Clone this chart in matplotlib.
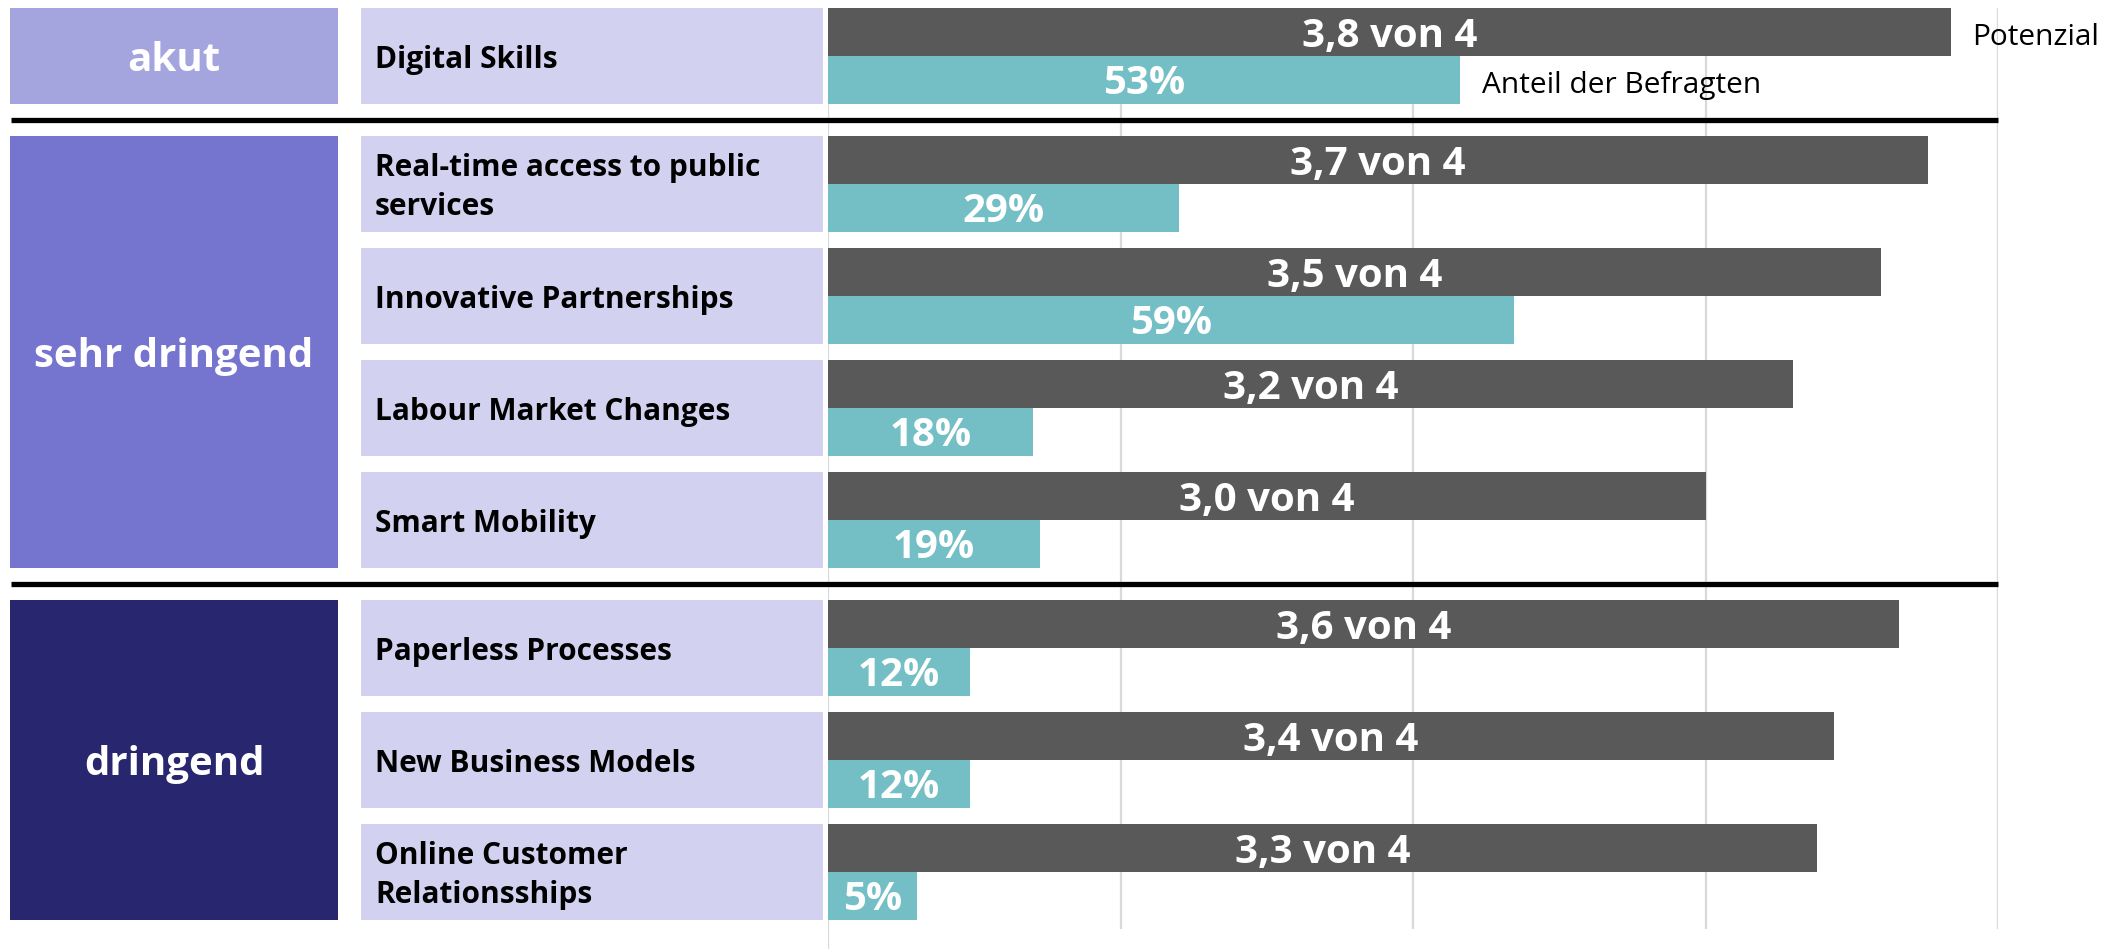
import matplotlib.pyplot as plt
from matplotlib.patches import Rectangle

plt.rcParams['font.family'] = ['Open Sans', 'DejaVu Sans']

# data
groups = ["akut", "sehr dringend", "dringend"]
group_sizes = [1, 4, 3]
themes = ["Digital Skills",
          "Real-time access to public\nservices",
          "Innovative Partnerships",
          "Labour Market Changes",
          "Smart Mobility",
          "Paperless Processes",
          "New Business Models",
          "Online Customer\nRelationsships"]
potenzial = [3.84, 3.76, 3.60, 3.30, 3.00, 3.66, 3.44, 3.38]
potenzial_labels = ["3,8 von 4", "3,7 von 4", "3,5 von 4", "3,2 von 4",
                    "3,0 von 4", "3,6 von 4", "3,4 von 4", "3,3 von 4"]
anteil = [54, 30, 58.6, 17.5, 18.1, 12.1, 12.1, 7.6]
anteil_labels = ["53%", "29%", "59%", "18%", "19%", "12%", "12%", "5%"]

group_colors = ["#a4a4de", "#7575cf", "#27266f"]
box_color = "#d2d2f0"
dark = "#595959"
teal = "#73bfc5"

W, H = 2113, 949
pitch, gap, box_h, top0 = 112, 16, 96, 8

# row tops (pixels)
row_top = []
y = top0
for gi, n in enumerate(group_sizes):
    for k in range(n):
        row_top.append(y)
        y += pitch
    y += gap

fig = plt.figure(figsize=(W / 100, H / 100), dpi=100)

# value axes
x0, x1 = 828, 1998
ax = fig.add_axes([x0 / W, 0, (x1 - x0) / W, 1])
ax.set_xlim(0, 4)
ax.set_ylim(H, 0)
ax.axis('off')
ax.vlines([1, 2, 3, 4], 8, 929, color="#d9d9d9", lw=1.6, zorder=0)
ax.vlines([0], 8, H, color="#d9d9d9", lw=1.6, zorder=0)

ax2 = ax.twiny()
ax2.set_xlim(0, 100)
ax2.set_ylim(H, 0)
ax2.axis('off')

bh = box_h / 2
for i in range(len(themes)):
    yt = row_top[i]
    ax.barh(yt + bh / 2, potenzial[i], height=bh, color=dark, zorder=2)
    ax.text(potenzial[i] / 2, yt + bh / 2 + 15, potenzial_labels[i], color="white",
            fontsize=29, fontweight="bold", ha="center", va="baseline", zorder=3)
    ax2.barh(yt + bh * 1.5, anteil[i], height=bh, color=teal, zorder=2)
    ax2.text(anteil[i] / 2, yt + bh * 1.5 + 14, anteil_labels[i], color="white",
             fontsize=29, fontweight="bold", ha="center", va="baseline", zorder=3)

ax.annotate("Potenzial", (potenzial[0], row_top[0] + bh / 2 + 13), xytext=(15, 0),
            textcoords="offset points", ha="left", va="baseline", fontsize=21.5)
ax2.annotate("Anteil der Befragten", (anteil[0], row_top[0] + bh * 1.5 + 13), xytext=(16, 0),
             textcoords="offset points", ha="left", va="baseline", fontsize=21.5)

# left boxes, labels, separators
bg = fig.add_axes([0, 0, 1, 1], zorder=5)
bg.set_xlim(0, W)
bg.set_ylim(H, 0)
bg.patch.set_alpha(0)
bg.axis('off')

idx = 0
for gi, n in enumerate(group_sizes):
    gt = row_top[idx]
    gb = row_top[idx + n - 1] + box_h
    bg.add_patch(Rectangle((10, gt), 328, gb - gt, color=group_colors[gi], lw=0))
    bg.text(174, (gt + gb) / 2 + 15, groups[gi], color="white", fontsize=29,
            fontweight="bold", ha="center", va="baseline")
    for k in range(n):
        yt = row_top[idx + k]
        nl = themes[idx + k].count("\n")
        bg.add_patch(Rectangle((361, yt), 462, box_h, color=box_color, lw=0))
        bg.text(375, yt + box_h / 2 + 12 + 19 * nl, themes[idx + k], color="black",
                fontsize=21.5, fontweight="bold", ha="left", va="baseline",
                linespacing=1.4)
    idx += n
    if gi < len(group_sizes) - 1:
        ys = gb + gap / 2 + 8
        bg.plot([11, x1], [ys, ys], color="black", lw=3.8, solid_capstyle="butt")

fig.savefig("out.png", dpi=100)
